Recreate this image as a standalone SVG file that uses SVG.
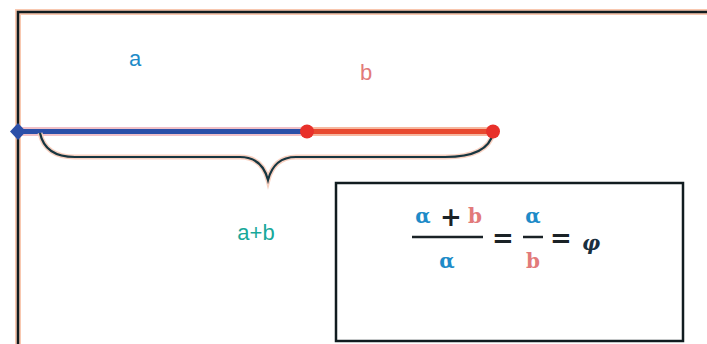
<svg xmlns="http://www.w3.org/2000/svg" width="707" height="344" viewBox="0 0 707 344">
<style>
.frame{fill:none;stroke:#111c20;stroke-width:2.5}
.halo{fill:none;stroke:#f8c8b0;stroke-width:6}
.lbl{font-family:"Liberation Sans",Arial,sans-serif;font-size:22px;text-anchor:middle}
.math{font-family:"DejaVu Serif","Liberation Serif",serif;font-size:20px;font-weight:bold;text-anchor:middle}
.op{font-family:"DejaVu Sans","Liberation Sans",sans-serif;font-size:26px;font-weight:bold;text-anchor:middle;fill:#1a2226}
</style>
<rect width="707" height="344" fill="#fff"/>
<g id="frame">
<rect class="halo" x="18" y="12" width="700" height="340"/>
<rect class="frame" x="18" y="12" width="700" height="340"/>
</g>
<g id="connectors">
<line x1="18" y1="131.5" x2="307" y2="131.5" stroke="#f0c0c8" stroke-width="9"/>
<line x1="18" y1="131.5" x2="307" y2="131.5" stroke="#2a4fa8" stroke-width="5"/>
<line x1="307" y1="131.5" x2="493" y2="131.5" stroke="#f6b8a0" stroke-width="9"/>
<line x1="307" y1="131.5" x2="493" y2="131.5" stroke="#e8492f" stroke-width="5"/>
<path d="M40 133 Q45 157 75 157 L240 157 Q262 157 268 180 Q274 157 296 157 L445 157 Q488 157 493 133" fill="none" stroke="#f8d0c0" stroke-width="5"/>
<path d="M40 133 Q45 157 75 157 L240 157 Q262 157 268 180 Q274 157 296 157 L445 157 Q488 157 493 133" fill="none" stroke="#173640" stroke-width="2.2"/>
</g>
<g id="point-start"><path d="M18 123 L26 131.5 L18 140 L10 131.5 Z" fill="#2c4fa8"/></g>
<g id="point-mid"><circle cx="307" cy="131.5" r="7" fill="#e8302a"/></g>
<g id="point-end"><circle cx="493" cy="131.5" r="7" fill="#e8302a"/></g>
<g id="label-a"><text class="lbl" x="135" y="66" fill="#1e8bc8">a</text></g>
<g id="label-b"><text class="lbl" x="366" y="80" fill="#e27a7a">b</text></g>
<g id="label-ab"><text class="lbl" x="256" y="240" fill="#18a89a">a+b</text></g>
<g id="formula">
<rect class="frame" x="336" y="183" width="347" height="158"/>
<text class="math" x="423" y="223" fill="#1e8bc8">α</text>
<text class="op" x="451" y="226">+</text>
<text class="math" x="475" y="223" fill="#e27a7a">b</text>
<line x1="412" y1="237" x2="483" y2="237" stroke="#1a2226" stroke-width="2.5"/>
<text class="math" x="447" y="268" fill="#1e8bc8">α</text>
<text class="op" x="503" y="247">=</text>
<text class="math" x="533" y="223" fill="#1e8bc8">α</text>
<line x1="523" y1="237" x2="543" y2="237" stroke="#1a2226" stroke-width="2.5"/>
<text class="math" x="533" y="268" fill="#e27a7a">b</text>
<text class="op" x="561" y="247">=</text>
<text class="math" x="591" y="250" fill="#1a3040" font-style="italic" font-size="24">φ</text>
</g>
</svg>
